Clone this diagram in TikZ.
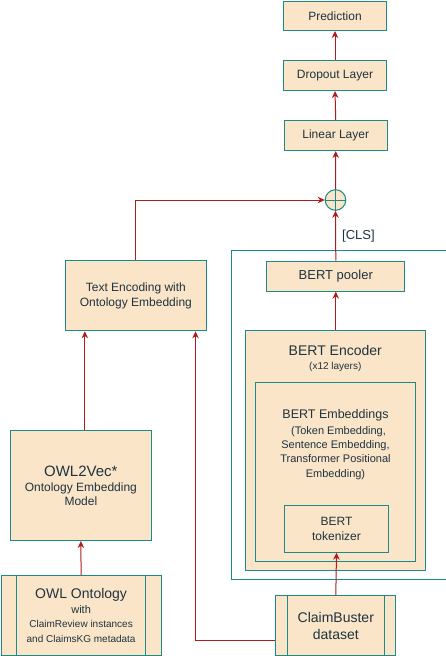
\documentclass[tikz,border=0pt]{standalone}
\usepackage{fontspec}
\setmainfont{Liberation Sans}
\usetikzlibrary{arrows.meta,calc}
\definecolor{boxfill}{HTML}{FAE5C8}
\definecolor{boxline}{HTML}{1A8A8A}
\definecolor{arrred}{HTML}{B01C1C}
\definecolor{txt}{HTML}{1F3340}
\newcommand{\fa}{\fontsize{10}{14.6}\selectfont}
\newcommand{\fb}{\fontsize{11}{14.2}\selectfont}
\newcommand{\fc}{\fontsize{12}{14.4}\selectfont}
\newcommand{\fd}{\fontsize{14}{16.8}\selectfont}
\tikzset{
  box/.style={draw=boxline, fill=boxfill, line width=1pt, text=txt, align=center, inner sep=0pt, anchor=north west},
  arr/.style={draw=arrred, line width=1pt, -{Stealth[length=7pt,width=6.5pt]}},
  lbl/.style={text=txt, inner sep=0pt}
}
\begin{document}
\begin{tikzpicture}[x=1pt,y=-1pt]
\useasboundingbox (0,0) rectangle (446,656);
% outer white container
\node[draw=boxline, fill=white, line width=1pt, anchor=north west, minimum width=215pt, minimum height=329pt, inner sep=0pt] (bertc) at (230.5,250) {};
% top chain
\node[box, font=\fc, minimum width=103pt, minimum height=29.5pt] (pred) at (283,0.5) {Prediction};
\node[box, font=\fc, minimum width=103pt, minimum height=30pt] (drop) at (283,60) {Dropout Layer};
\node[box, font=\fc, minimum width=102.5pt, minimum height=30pt] (lin) at (284,120) {Linear Layer};
\node[circle, draw=boxline, fill=boxfill, line width=1pt, minimum size=20.6pt, inner sep=0pt] (plus) at (335.5,200) {};
\draw[boxline, line width=1pt] (plus.north) -- (plus.south) (plus.west) -- (plus.east);
% BERT column
\node[box, font=\fontsize{13}{15.6}\selectfont, minimum width=138pt, minimum height=30pt] (pool) at (266.3,260.7) {BERT pooler};
\node[box, minimum width=180pt, minimum height=240.3pt] (enc) at (245.3,330) {};
\node[lbl, font=\fd] (enct) at (335.3,350) {BERT Encoder};
\node[lbl, font=\fontsize{10}{12}\selectfont] (encs) at (335.3,366.7) {(x12 layers)};
\node[box, minimum width=160pt, minimum height=178.7pt] (emb) at (255.3,382.3) {};
\node[lbl, align=center, anchor=north, font=\fb] (embt) at (335.5,409.5) {\fontsize{12.5}{15}\selectfont BERT Embeddings\\[1.5pt]
  \hspace*{6pt}(Token Embedding,\\ Sentence Embedding,\\ Transformer Positional\\ Embedding)};
\node[box, font=\fontsize{12}{15}\selectfont, minimum width=104.6pt, minimum height=46.4pt] (tok) at (283.7,505.3) {BERT\\ tokenizer};
\node[box, font=\fontsize{14}{17.3}\selectfont, minimum width=120pt, minimum height=60pt] (cb) at (275.3,595.3) {ClaimBuster\\ dataset};
\draw[boxline, line width=1pt] ([xshift=12pt]cb.north west) -- ([xshift=12pt]cb.south west)
  ([xshift=-11.6pt]cb.north east) -- ([xshift=-11.6pt]cb.south east);
% left column
\node[box, font=\fc, minimum width=140.7pt, minimum height=70pt] (te) at (65,260.3) {Text Encoding with\\ Ontology Embedding};
\node[box, font=\fc, minimum width=140.7pt, minimum height=110pt] (o2v) at (10,430) {\fontsize{15}{15}\selectfont OWL2Vec*\\[1pt] \fc Ontology Embedding\\[-1pt] \fc Model};
\node[box, font=\fa, minimum width=160.2pt, minimum height=80pt] (owl) at (0.5,575) {\fd OWL Ontology\\[0pt] \fb with\\ \fa ClaimReview instances\\ \fa and ClaimsKG metadata};
\draw[boxline, line width=1pt] ([xshift=15.8pt]owl.north west) -- ([xshift=15.8pt]owl.south west)
  ([xshift=-16.4pt]owl.north east) -- ([xshift=-16.4pt]owl.south east);
% connectors
\draw[arr] (owl.north) -- (o2v.south);
\draw[arr] ([xshift=4pt]o2v.north) -- ([xshift=4pt]o2v.north |- te.south);
\coordinate (cbin) at ([yshift=-15pt]cb.west);
\draw[arr] (cbin) -| ([xshift=59.7pt]te.south);
\draw[arr] (cb.north) -- (tok.south);
\draw[arr] (enc.north) -- (pool.south);
\draw[arr] (pool.north) -- (plus.south) node[pos=0.5, right=6pt, lbl, font=\fontsize{13}{15.6}\selectfont] (cls) {[CLS]};
\draw[arr] (te.north) |- (plus.west);
\draw[arr] (plus.north) -- (lin.south);
\draw[arr] (lin.north) -- (drop.south);
\draw[arr] (drop.north) -- (pred.south);
\end{tikzpicture}
\end{document}
